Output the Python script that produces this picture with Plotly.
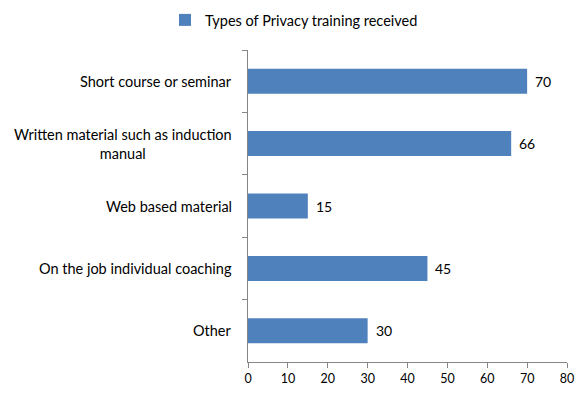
import plotly.graph_objects as go

categories = ["Short course or seminar",
              "Written material such as induction<br>manual",
              "Web based material",
              "On the job individual coaching",
              "Other"]
values = [70, 66, 15, 45, 30]
series_name = "Types of Privacy training received"
x_ticks = [0, 10, 20, 30, 40, 50, 60, 70, 80]

FONT = "Lato, Open Sans, sans-serif"
BAR = "#4F81BD"
AX = "#868686"

fig = go.Figure()
fig.add_trace(go.Bar(
    y=categories, x=values, orientation="h", name=series_name,
    marker=dict(color=BAR, line=dict(width=0)),
    width=0.4,
))

for c in categories:
    fig.add_annotation(x=0, xref="paper", xanchor="right", xshift=-14,
                       y=c, yref="y", text=c, showarrow=False, align="center",
                       font=dict(family=FONT, size=14.5, color="#000"))

for c, v in zip(categories, values):
    fig.add_annotation(x=v, xref="x", xanchor="left", xshift=6,
                       y=c, yref="y", text=str(v), showarrow=False,
                       font=dict(family=FONT, size=14, color="#000"))

fig.update_layout(
    width=588, height=398,
    margin=dict(l=248, r=21, t=50, b=34),
    plot_bgcolor="white", paper_bgcolor="white",
    showlegend=True,
    legend=dict(orientation="h", x=0.5, xref="container", xanchor="center",
                y=0.99, yref="container", yanchor="top",
                font=dict(family=FONT, size=14.5, color="#000"),
                itemwidth=30),
    xaxis=dict(range=[0, 80], tickvals=x_ticks, showgrid=False, zeroline=False,
               showline=True, linecolor=AX, linewidth=1,
               ticks="outside", ticklen=5, tickcolor=AX,
               tickfont=dict(family=FONT, size=12.5, color="#000")),
    yaxis=dict(autorange="reversed", showgrid=False, showline=True, linecolor=AX,
               linewidth=1, ticks="outside", ticklen=5, tickcolor=AX,
               tickson="boundaries", showticklabels=False),
)

fig.write_html("out.html")
